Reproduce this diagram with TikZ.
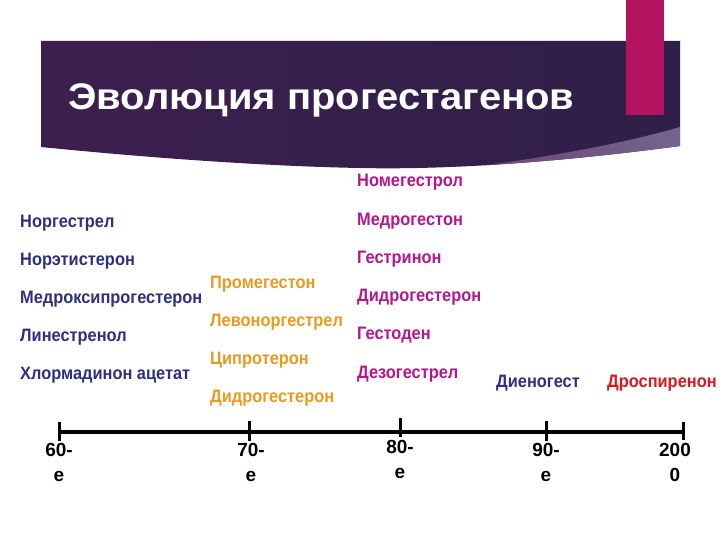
\documentclass[tikz,border=0pt]{standalone}
\usepackage{fontspec}
\setmainfont{Liberation Sans}
\newfontfamily\narrowfont[FakeStretch=0.91]{Liberation Sans}
\newfontfamily\widefont[FakeStretch=1.08]{Liberation Sans}
\usetikzlibrary{positioning}
\definecolor{drugnavy}{HTML}{2E2F82}
\definecolor{drugorange}{HTML}{E89B22}
\definecolor{drugmagenta}{HTML}{B4178C}
\definecolor{drugred}{HTML}{D9191E}
\definecolor{bannerleft}{HTML}{3D1F4F}
\definecolor{bannermid}{HTML}{622B64}
\definecolor{bannerright}{HTML}{2F1F48}
\definecolor{sliver}{HTML}{77678F}
\definecolor{tab}{HTML}{B3125E}

\begin{document}
\begin{tikzpicture}[x=1pt,y=-1pt,
  drug/.style={anchor=base west,inner sep=0pt,text=#1,
    font=\narrowfont\bfseries\fontsize{18}{20}\selectfont},
  yearlabel/.style={anchor=north,inner sep=0pt,align=center,
    font=\bfseries\fontsize{19}{25}\selectfont}]
  \useasboundingbox[fill=white] (0,0) rectangle (720,540);
  % title banner
  \def\bannerpath{(41,41) -- (680,41) -- (680,146)
    .. controls (560,162) and (450,170) .. (360,168)
    .. controls (250,166) and (120,155) .. (41,147) -- cycle}
  \shade[left color=bannerleft,middle color=bannermid,right color=bannerright] \bannerpath;
  \begin{scope}
    \clip \bannerpath;
    \shade[left color=bannermid!80!sliver,right color=sliver] (680,127) .. controls (600,150) and (500,165) .. (380,178)
      -- (380,200) -- (700,200) -- (700,127) -- cycle;
  \end{scope}
  \fill[tab] (626,0) rectangle (664,115);
  \node[anchor=base west,inner sep=0pt,text=white,font=\widefont\bfseries\fontsize{37}{40}\selectfont]
    (title) at (68,110) {Эволюция прогестагенов};
  % drugs per decade
  \foreach \name [count=\i] in {Норгестрел,Норэтистерон,Медроксипрогестерон,Линестренол,Хлормадинон ацетат}
    \node[drug=drugnavy] (d60-\i) at (20,{227+38*(\i-1)}) {\name};
  \foreach \name [count=\i] in {Промегестон,Левоноргестрел,Ципротерон,Дидрогестерон}
    \node[drug=drugorange] (d70-\i) at (210,{288+38*(\i-1)}) {\name};
  \foreach \name [count=\i] in {Номегестрол,Медрогестон,Гестринон,Дидрогестерон,Гестоден,Дезогестрел}
    \node[drug=drugmagenta] (d80-\i) at (357,{187+38.2*(\i-1)}) {\name};
  \node[drug=drugnavy] (d90-1) at (496,387) {Диеногест};
  \node[drug=drugred] (d00-1) at (607,387) {Дроспиренон};
  % time axis
  \coordinate (t60) at (59,432);
  \coordinate (t200) at (683,432);
  \draw[line width=3.5pt] (t60) -- (t200);
  \foreach \x/\a/\b in {59/422/441,249/421/441,400/418/437,546/421/441,683/422/440}
    \draw[line width=3pt] (\x,\a) -- (\x,\b);
  \node[yearlabel] (y60) at (59,443) {60-\\е};
  \node[yearlabel] (y70) at (251,443) {70-\\е};
  \node[yearlabel] (y80) at (400,440) {80-\\е};
  \node[yearlabel] (y90) at (546,443) {90-\\е};
  \node[yearlabel] (y200) at (675,443) {200\\0};
\end{tikzpicture}
\end{document}
